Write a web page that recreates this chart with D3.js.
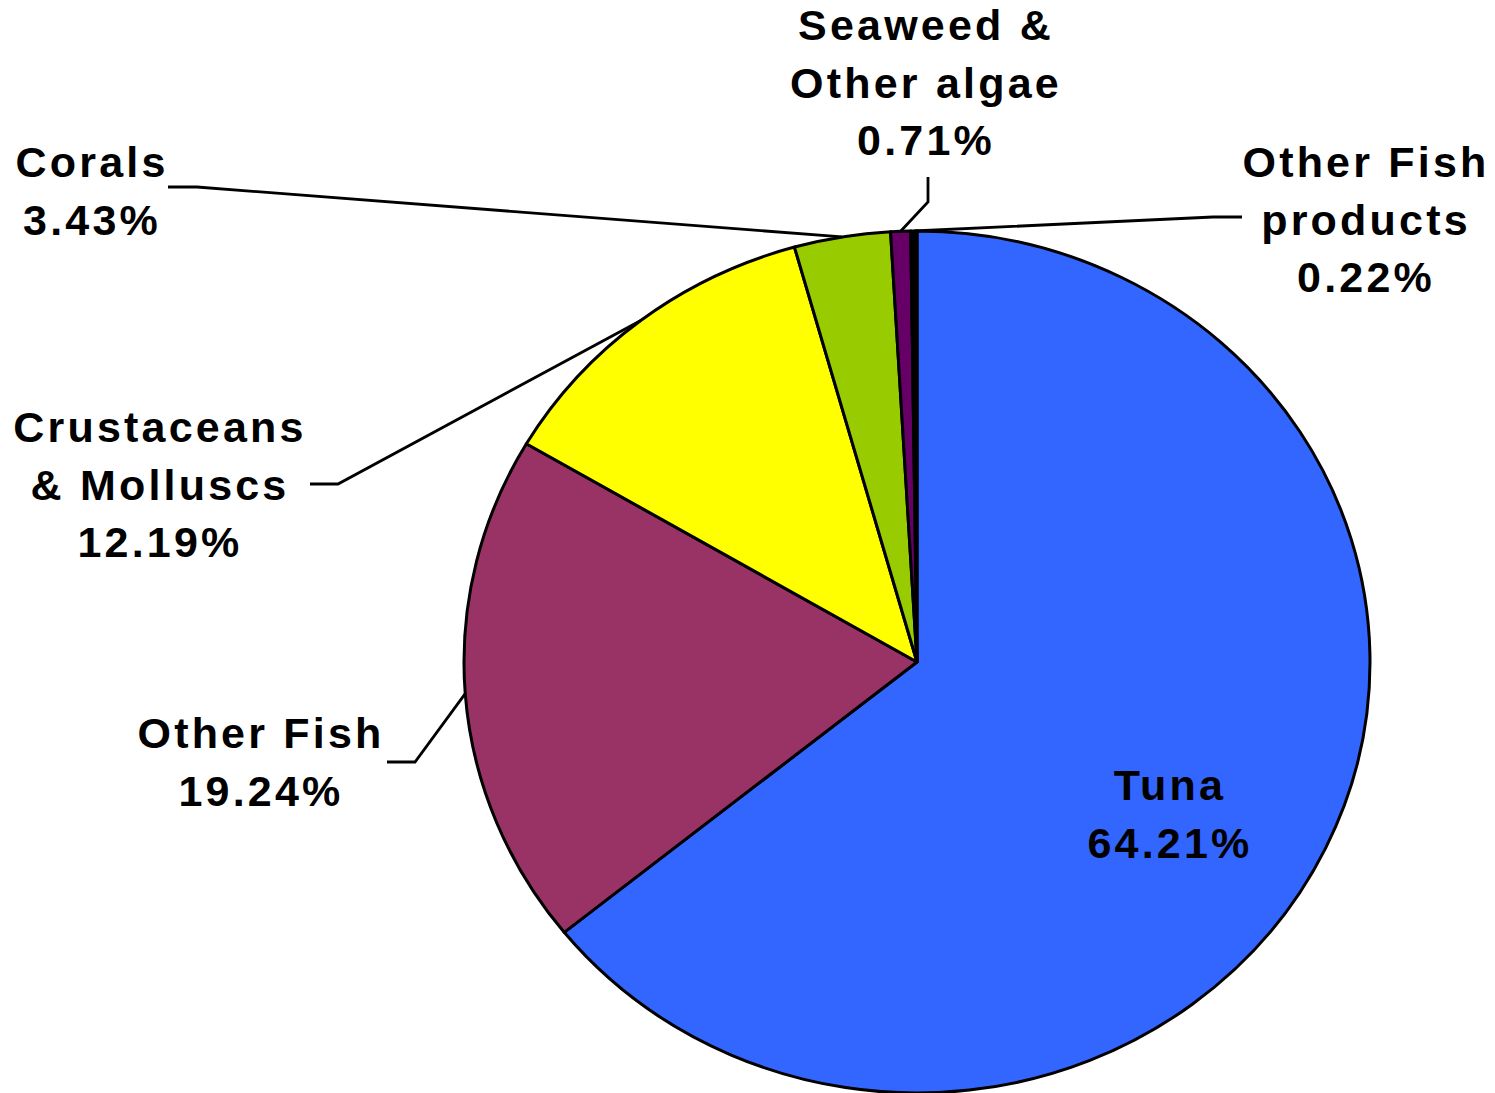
<!DOCTYPE html>
<html>
<head>
<meta charset="utf-8">
<script src="https://cdn.jsdelivr.net/npm/d3@7"></script>
<style>
html, body { margin: 0; padding: 0; background: #fff; }
svg { display: block; }
text { font-family: "Liberation Sans", Arial, sans-serif; font-weight: bold; fill: #000; }
</style>
</head>
<body>
<svg id="chart" width="1495" height="1093"></svg>
<script>
// ---- data ----
const categories = ["Tuna", "Other Fish", "Crustaceans & Molluscs", "Corals", "Seaweed & Other algae", "Other Fish products"];
const values = [64.21, 19.24, 12.19, 3.43, 0.71, 0.22];
const colors = ["#3366FF", "#993366", "#FFFF00", "#99CC00", "#660066", "#000000"];
const labelLines = [
  ["Tuna", "64.21%"],
  ["Other Fish", "19.24%"],
  ["Crustaceans", "& Molluscs", "12.19%"],
  ["Corals", "3.43%"],
  ["Seaweed &", "Other algae", "0.71%"],
  ["Other Fish", "products", "0.22%"]
];

// ---- layout ----
const W = 1495, H = 1093;
const cx = 917, cy = 662, rx = 453, ry = 431;
const fontSize = 43, lineH = 57.5;
// label centre x and first baseline y
const labelPos = [
  [1170, 800],
  [261, 748],
  [160, 442],
  [92, 177],
  [926, 40],
  [1366, 177]
];
// leader elbow: [startX, startY, elbowX, elbowY] (null = inside label)
const leaderPos = [
  null,
  [387, 762, 415, 762],
  [310, 484, 338, 484],
  [168, 187, 197, 187],
  [928, 177, 928, 202],
  [1242, 217, 1213, 217]
];

const svg = d3.select("#chart");
const pie = d3.pie().sort(null).value(d => d)(values);
const arc = d3.arc().innerRadius(0).outerRadius(ry);

const g = svg.append("g")
  .attr("transform", `translate(${cx},${cy}) scale(${rx / ry},1)`);

g.selectAll("path.slice")
  .data(pie)
  .join("path")
  .attr("class", "slice")
  .attr("d", arc)
  .attr("fill", (d, i) => colors[i])
  .attr("stroke", "#000")
  .attr("stroke-width", 3)
  .attr("stroke-linejoin", "round")
  .attr("vector-effect", "non-scaling-stroke");

function edgePoint(a) {
  return [cx + rx * Math.sin(a), cy - ry * Math.cos(a)];
}

// leader lines
pie.forEach((d, i) => {
  const lp = leaderPos[i];
  if (!lp) return;
  const mid = (d.startAngle + d.endAngle) / 2;
  const [ex, ey] = edgePoint(mid);
  const line = d3.line();
  svg.append("path")
    .attr("d", line([[lp[0], lp[1]], [lp[2], lp[3]], [ex, ey]]))
    .attr("fill", "none")
    .attr("stroke", "#000")
    .attr("stroke-width", 2.8);
});

// labels
labelLines.forEach((lines, i) => {
  const [x, y] = labelPos[i];
  const t = svg.append("text")
    .attr("text-anchor", "middle")
    .attr("font-size", fontSize)
    .attr("letter-spacing", 3.2);
  lines.forEach((s, j) => {
    t.append("tspan")
      .attr("x", x)
      .attr("y", y + j * lineH)
      .text(s);
  });
});
</script>
</body>
</html>
